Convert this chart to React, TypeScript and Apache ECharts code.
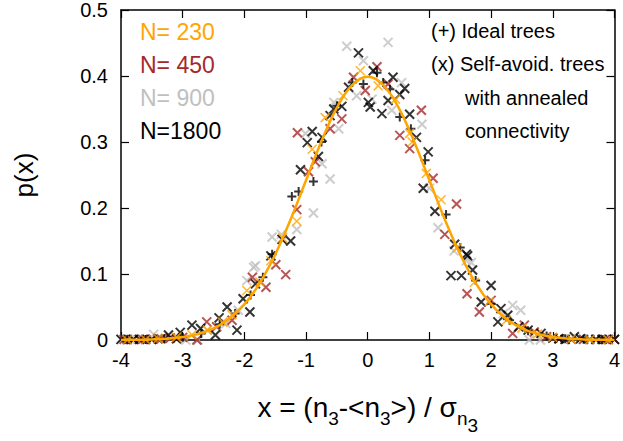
import React, { useEffect, useRef } from "react";
import * as echarts from "echarts";

// Fitted Gaussian (p(x) of unit normal), read at 0.25 steps
const curveX = [-4, -3.75, -3.5, -3.25, -3, -2.75, -2.5, -2.25, -2, -1.75, -1.5, -1.25, -1, -0.75, -0.5, -0.25, 0, 0.25, 0.5, 0.75, 1, 1.25, 1.5, 1.75, 2, 2.25, 2.5, 2.75, 3, 3.25, 3.5, 3.75, 4];
const curveY = [0.0001, 0.0004, 0.0009, 0.002, 0.0044, 0.0091, 0.0175, 0.0317, 0.054, 0.0863, 0.1295, 0.1826, 0.242, 0.3011, 0.3521, 0.3867, 0.3989, 0.3867, 0.3521, 0.3011, 0.242, 0.1826, 0.1295, 0.0863, 0.054, 0.0317, 0.0175, 0.0091, 0.0044, 0.002, 0.0009, 0.0004, 0.0001];

// N = 230 (self-avoiding, x)
const n230 = [[-3.9, 0.0002], [-3.6, 0.0006], [-3.4, 0.002], [-3.1, 0.004], [-2.85, 0.008], [-2.6, 0.015], [-2.35, 0.027], [-2.2, 0.038], [-1.96, 0.075], [-1.75, 0.088], [-1.57, 0.12], [-1.38, 0.155], [-1.15, 0.18], [-0.9, 0.289], [-0.69, 0.337], [-0.4, 0.37], [-0.12, 0.408], [0.17, 0.385], [0.45, 0.365], [0.68, 0.313], [0.72, 0.3], [0.95, 0.2525], [1.19, 0.2125], [1.45, 0.14], [1.73, 0.0875], [1.97, 0.058], [2.25, 0.03], [2.5, 0.018], [2.75, 0.009], [3.0, 0.004], [3.3, 0.0015], [3.6, 0.0006], [3.9, 0.0002]];

// N = 450
const n450 = [[-3.95, 0.001], [-3.8, 0.001], [-3.65, 0.001], [-3.5, 0.001], [-3.35, 0.002], [-3.2, 0.003], [-3.0, 0.004], [-2.77, 0.0], [-2.61, 0.0275], [-2.45, 0.02], [-2.2, 0.03], [-1.87, 0.095], [-1.65, 0.08], [-1.49, 0.114], [-1.33, 0.099], [-1.15, 0.1975], [-0.96, 0.255], [-0.85, 0.27], [-1.14, 0.314], [-0.61, 0.32], [-0.42, 0.335], [-0.23, 0.398], [-0.04, 0.378], [0.15, 0.414], [0.33, 0.388], [0.52, 0.31], [0.68, 0.29], [0.87, 0.348], [1.06, 0.245], [1.25, 0.16], [1.44, 0.206], [1.61, 0.07], [1.81, 0.0425], [2.0, 0.06], [2.35, 0.01], [2.54, 0.0225], [2.7, 0.012], [2.9, 0.005], [3.1, 0.002], [3.3, 0.001], [3.5, 0.001], [3.7, 0.001], [3.85, 0.001], [4.0, 0.001]];

// N = 900
const n900 = [[-4, 0.001], [-3.85, 0.001], [-3.7, 0.001], [-3.47, 0.0085], [-3.2, 0.003], [-2.95, 0.0], [-2.75, 0.0], [-2.6, 0.015], [-2.3, 0.025], [-2.1, 0.045], [-1.96, 0.09], [-1.85, 0.11], [-1.82, 0.1125], [-1.55, 0.156], [-1.4, 0.16], [-1.15, 0.1675], [-0.88, 0.1925], [-0.61, 0.244], [-0.74, 0.267], [-1.01, 0.313], [-0.47, 0.32], [-0.55, 0.36], [-0.18, 0.37], [-0.07, 0.423], [-0.34, 0.445], [0.07, 0.365], [0.33, 0.451], [0.39, 0.348], [0.55, 0.39], [0.88, 0.327], [1.0, 0.23], [1.14, 0.17], [1.4, 0.135], [1.68, 0.1175], [1.6, 0.12], [2.35, 0.0525], [2.48, 0.045], [2.2, 0.04], [2.62, 0.0], [2.8, 0.0], [3.0, 0.003], [3.2, 0.001], [3.5, 0.001], [3.8, 0.001], [4, 0.001]];

// N = 1800
const n1800 = [[-4, 0.001], [-3.9, 0.001], [-3.8, 0.001], [-3.7, 0.001], [-3.6, 0.001], [-3.5, 0.001], [-3.4, 0.002], [-3.23, 0.0075], [-3.1, 0.002], [-3.04, 0.0115], [-2.85, 0.0225], [-2.71, 0.0175], [-2.47, 0.0075], [-2.41, 0.0335], [-2.28, 0.05], [-2.12, 0.015], [-2.02, 0.0625], [-1.91, 0.0425], [-1.82, 0.085], [-1.57, 0.1275], [-1.39, 0.1525], [-1.25, 0.15], [-1.09, 0.258], [-0.98, 0.299], [-0.9, 0.316], [-0.8, 0.278], [-0.74, 0.307], [-0.61, 0.34], [-0.55, 0.35], [-0.42, 0.354], [-0.31, 0.383], [-0.15, 0.435], [0.01, 0.36], [0.04, 0.353], [0.09, 0.408], [0.23, 0.343], [0.33, 0.363], [0.41, 0.398], [0.52, 0.372], [0.6, 0.381], [0.68, 0.342], [0.79, 0.307], [0.98, 0.285], [0.9, 0.23], [1.09, 0.195], [1.35, 0.0975], [1.41, 0.145], [1.52, 0.0975], [1.6, 0.13], [1.62, 0.1275], [1.7, 0.106], [1.84, 0.0575], [2.0, 0.0825], [2.11, 0.0275], [2.16, 0.0475], [2.27, 0.0375], [2.45, 0.02], [2.6, 0.015], [2.81, 0.01], [3.0, 0.003], [3.1, 0.002], [3.2, 0.001], [3.35, 0.005], [3.45, 0.002], [3.6, 0.001], [3.7, 0.001], [3.8, 0.001], [3.9, 0.001], [4.0, 0.001]];

// Ideal trees (+)
const ideal1800 = [[-3.9, 0.0005], [-3.6, 0.0008], [-3.3, 0.002], [-3.0, 0.004], [-2.7, 0.01], [-2.4, 0.024], [-2.15, 0.04], [-1.9, 0.068], [-1.7, 0.095], [-1.55, 0.13], [-1.23, 0.2175], [-1.12, 0.225], [-0.88, 0.24], [-0.75, 0.3], [-0.5, 0.355], [-0.25, 0.39], [-0.07, 0.388], [0.15, 0.405], [0.25, 0.39], [0.36, 0.38], [0.52, 0.338], [0.7, 0.32], [0.93, 0.2725], [1.27, 0.19], [1.5, 0.14], [1.75, 0.09], [2.0, 0.055], [2.3, 0.03], [2.6, 0.014], [2.9, 0.006], [3.2, 0.002], [3.5, 0.001], [3.8, 0.0004]];

const legendLabels = ["N= 230", "N= 450", "N= 900", "N=1800"];
const legendColors = ["#ffa500", "#a52a2a", "#c0c0c0", "#000000"];
const noteLines = ["(+) Ideal trees", "(x) Self-avoid. trees", "with annealed", "connectivity"];

const FONT = "Liberation Sans, Arial, Helvetica, sans-serif";
const X_SYM = "path://M0,0L10,10M0,10L10,0";
const P_SYM = "path://M5,0L5,10M0,5L10,5";

function scatter(data: number[][], color: string, sym: string, w = 2) {
  return {
    type: "scatter",
    data,
    symbol: sym,
    symbolSize: 9,
    clip: false,
    itemStyle: { color: "none", borderColor: color, borderWidth: w },
    z: 3,
  };
}

export default function App() {
  const ref = useRef<HTMLDivElement>(null);
  useEffect(() => {
    if (!ref.current) return;
    const chart = echarts.init(ref.current, null, { renderer: "svg" });
    const axisLine = { show: true, onZero: false, lineStyle: { color: "#000", width: 1.5 } };
    const tick = { show: true, inside: true, length: 8, lineStyle: { color: "#000", width: 1.2 } };
    const label = { fontSize: 20, color: "#000", fontFamily: FONT };
    const texts: any[] = [];
    legendLabels.forEach((t, i) => {
      texts.push({
        type: "text",
        left: 140,
        top: 33 + i * 33.3 - 13,
        style: { text: t, fill: legendColors[i], fontSize: 23, fontFamily: FONT },
      });
    });
    noteLines.forEach((t, i) => {
      texts.push({
        type: "text",
        left: i < 2 ? 431 : 465,
        top: 33 + i * 33.3 - 12,
        style: { text: t, fill: "#000", fontSize: 20, fontFamily: FONT },
      });
    });
    chart.setOption({
      animation: false,
      grid: { left: 121, right: 6, top: 6, bottom: 101, containLabel: false },
      xAxis: [
        {
          type: "value",
          min: -4,
          max: 4,
          interval: 1,
          position: "bottom",
          axisLine,
          axisTick: tick,
          axisLabel: { ...label, margin: 10 },
          splitLine: { show: false },
          name: "{m|x = (n}{s|3}{m|-<n}{s|3}{m|>) / σ}{s|n}{ss|3}",
          nameLocation: "middle",
          nameGap: 46,
          nameTextStyle: {
            rich: {
              m: { fontSize: 28, fontFamily: FONT, color: "#000", lineHeight: 42 },
              s: { fontSize: 19, fontFamily: FONT, color: "#000", lineHeight: 18, verticalAlign: "bottom" },
              ss: { fontSize: 19, fontFamily: FONT, color: "#000", lineHeight: 10, verticalAlign: "bottom", padding: [0, 0, -7, 0] },
            },
          },
        },
        {
          type: "value",
          min: -4,
          max: 4,
          interval: 1,
          position: "top",
          axisLine,
          axisTick: tick,
          axisLabel: { show: false },
          splitLine: { show: false },
        },
      ],
      yAxis: [
        {
          type: "value",
          min: 0,
          max: 0.5,
          interval: 0.1,
          position: "left",
          axisLine,
          axisTick: tick,
          axisLabel: { ...label, margin: 13 },
          splitLine: { show: false },
          name: "p(x)",
          nameLocation: "middle",
          nameGap: 84,
          nameRotate: 90,
          nameTextStyle: { fontSize: 26, fontFamily: FONT, color: "#000" },
        },
        {
          type: "value",
          min: 0,
          max: 0.5,
          interval: 0.1,
          position: "right",
          axisLine,
          axisTick: tick,
          axisLabel: { show: false },
          splitLine: { show: false },
        },
      ],
      graphic: texts,
      series: [
        scatter(n900, legendColors[2], X_SYM),
        scatter(n450, legendColors[1], X_SYM),
        scatter(n1800, legendColors[3], X_SYM),
        scatter(ideal1800, legendColors[3], P_SYM),
        scatter(n230, legendColors[0], X_SYM, 1.6),
        {
          type: "line",
          data: curveX.map((x, i) => [x, curveY[i]]),
          smooth: 0.4,
          showSymbol: false,
          symbol: "none",
          lineStyle: { color: "#ffa500", width: 2.5 },
          z: 5,
        },
      ],
    });
    return () => chart.dispose();
  }, []);
  return <div ref={ref} style={{ width: 623, height: 441, position: "absolute", left: 0, top: 0 }} />;
}
